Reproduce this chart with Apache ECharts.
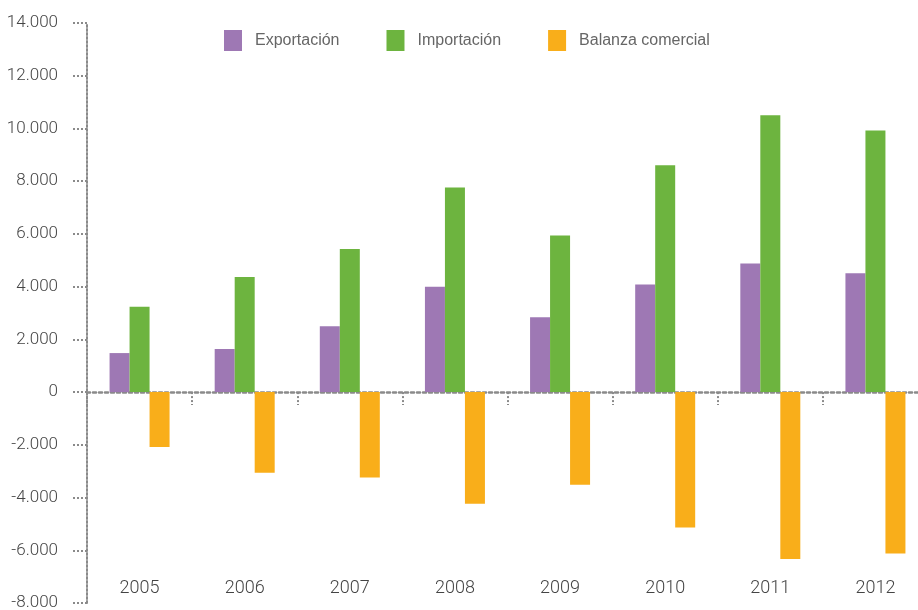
<!DOCTYPE html>
<html>
<head>
<meta charset="utf-8">
<script src="https://cdn.jsdelivr.net/npm/echarts@6/dist/echarts.min.js"></script>
<style>
  html, body { margin: 0; padding: 0; background: #fff; }
  #chart { width: 918px; height: 610px; }
</style>
</head>
<body>
<div id="chart"></div>
<script>
var years = ['2005', '2006', '2007', '2008', '2009', '2010', '2011', '2012'];
var exportacion = [1480, 1630, 2500, 4000, 2840, 4080, 4880, 4510];
var importacion = [3240, 4370, 5430, 7760, 5940, 8600, 10500, 9920];
var balanza = [-2080, -3060, -3240, -4240, -3510, -5140, -6330, -6120];

var gris = '#8a8a8a';
var fuenteNum = 'Roboto, "Liberation Sans", sans-serif';

// separador de miles con punto, como en el original
function miles(v) {
    var s = String(Math.abs(v)).replace(/\B(?=(\d{3})+(?!\d))/g, '.');
    return (v < 0 ? '-' : '') + s;
}

var chart = echarts.init(document.getElementById('chart'));

chart.setOption({
    animation: false,
    grid: {
        left: 87, top: 23, bottom: 7, width: 841,
        containLabel: false,
        outerBoundsMode: 'none'
    },
    legend: {
        left: 219,
        top: 25,
        itemWidth: 18,
        itemHeight: 21,
        itemGap: 47,
        icon: 'rect',
        textStyle: {
            fontFamily: '"Liberation Sans", Arial, sans-serif',
            fontSize: 16,
            color: '#666',
            padding: [0, 0, 0, 8]
        },
        data: ['Exportación', 'Importación', 'Balanza comercial']
    },
    xAxis: [{
        type: 'category',
        data: years,
        axisLine: { onZero: true, lineStyle: { color: gris, type: [3, 3], width: 2.5 } },
        axisTick: { show: true, length: 13, lineStyle: { color: gris, type: [2, 2], width: 2 } },
        axisLabel: { show: false }
    }, {
        type: 'category',
        data: years,
        position: 'bottom',
        offset: -24,
        axisLine: { show: false },
        axisTick: { show: false },
        axisLabel: {
            margin: 0,
            fontFamily: fuenteNum,
            fontWeight: 300,
            fontSize: 18,
            color: '#444'
        }
    }],
    yAxis: {
        type: 'value',
        min: -8000,
        max: 14000,
        interval: 2000,
        splitLine: { show: false },
        axisLine: { show: true, lineStyle: { color: gris, type: [2, 2], width: 2 } },
        axisTick: { show: true, length: 15, lineStyle: { color: gris, type: [2, 2], width: 2 } },
        axisLabel: {
            margin: 29,
            fontFamily: fuenteNum,
            fontWeight: 300,
            fontSize: 17,
            color: '#444',
            formatter: miles
        }
    },
    series: [{
        name: 'Exportación',
        type: 'bar',
        barWidth: 20,
        barGap: '0%',
        itemStyle: { color: '#9e78b4' },
        data: exportacion
    }, {
        name: 'Importación',
        type: 'bar',
        barWidth: 20,
        barGap: '0%',
        itemStyle: { color: '#6db43f' },
        data: importacion
    }, {
        name: 'Balanza comercial',
        type: 'bar',
        barWidth: 20,
        barGap: '0%',
        itemStyle: { color: '#f9ae1a' },
        data: balanza
    }]
});
</script>
</body>
</html>
